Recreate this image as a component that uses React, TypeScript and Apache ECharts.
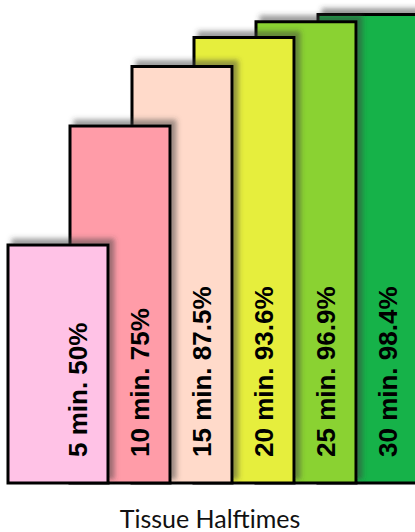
import React, { useEffect, useRef } from "react";
import * as echarts from "echarts";

const TIMES = [5, 10, 15, 20, 25, 30];
const PERCENTS = [50, 75, 87.5, 93.6, 96.9, 98.4];
const COLORS = ["#FFC2E6", "#FF9CA8", "#FFDACA", "#E6EE3C", "#8AD232", "#12B24A"];
const X_TITLE = "Tissue Halftimes";

const BAR_W = 100 / 62; // bar width in axis units
const LABEL_DX = 70 / 62; // label offset from bar left in axis units

export default function App() {
  const ref = useRef<HTMLDivElement>(null);
  useEffect(() => {
    if (!ref.current) return;
    const chart = echarts.init(ref.current, undefined, { renderer: "svg" });
    // draw back-most bar first so the left bars sit in front
    const data = TIMES.map((t, i) => ({
      value: [i, PERCENTS[i]],
      name: `${t} min. ${PERCENTS[i]}%`,
      color: COLORS[i],
    })).reverse();
    chart.setOption({
      animation: false,
      backgroundColor: "#ffffff",
      grid: { left: 8, right: 35, top: 7, bottom: 49 },
      xAxis: {
        type: "value",
        min: 0,
        max: 6,
        axisLine: { show: false },
        axisTick: { show: false },
        axisLabel: { show: false },
        splitLine: { show: false },
      },
      yAxis: {
        type: "value",
        min: 0,
        max: 100,
        axisLine: { show: false },
        axisTick: { show: false },
        axisLabel: { show: false },
        splitLine: { show: false },
      },
      graphic: [
        {
          type: "text",
          x: 210,
          y: 518,
          style: {
            text: X_TITLE,
            fontFamily: "Lato, 'Open Sans', sans-serif",
            fontSize: 25,
            fontWeight: "normal",
            fill: "#111",
            align: "center",
            verticalAlign: "middle",
          },
        },
      ],
      series: [
        {
          type: "custom",
          clip: false,
          data: data.map((d) => ({ value: d.value, name: d.name })),
          renderItem: (params: any, api: any) => {
            const idx = params.dataIndex;
            const item = data[idx];
            const i = api.value(0);
            const v = api.value(1);
            const base = api.coord([i, 0]);
            const top = api.coord([i, v]);
            const w = api.size([BAR_W, 0])[0];
            const lx = api.coord([i + LABEL_DX, 0])[0];
            return {
              type: "group",
              children: [
                {
                  type: "rect",
                  z2: idx * 2,
                  shape: { x: base[0], y: top[1], width: w, height: base[1] - top[1] },
                  style: {
                    fill: item.color,
                    stroke: "#000",
                    lineWidth: 3,
                    shadowColor: "rgba(60,60,60,0.5)",
                    shadowBlur: 5,
                    shadowOffsetX: 5,
                    shadowOffsetY: -5,
                  },
                },
                {
                  type: "text",
                  z2: idx * 2 + 1,
                  x: lx,
                  y: base[1] - 26,
                  rotation: Math.PI / 2,
                  style: {
                    text: item.name,
                    fontFamily: "'Liberation Sans', Arial, sans-serif",
                    fontWeight: "bold",
                    fontSize: 26,
                    fill: "#000",
                    align: "left",
                    verticalAlign: "middle",
                  },
                },
              ],
            };
          },
        },
      ],
    });
    return () => chart.dispose();
  }, []);
  return (
    <div
      ref={ref}
      style={{ position: "fixed", left: 0, top: 0, width: 415, height: 532, background: "#fff" }}
    />
  );
}
